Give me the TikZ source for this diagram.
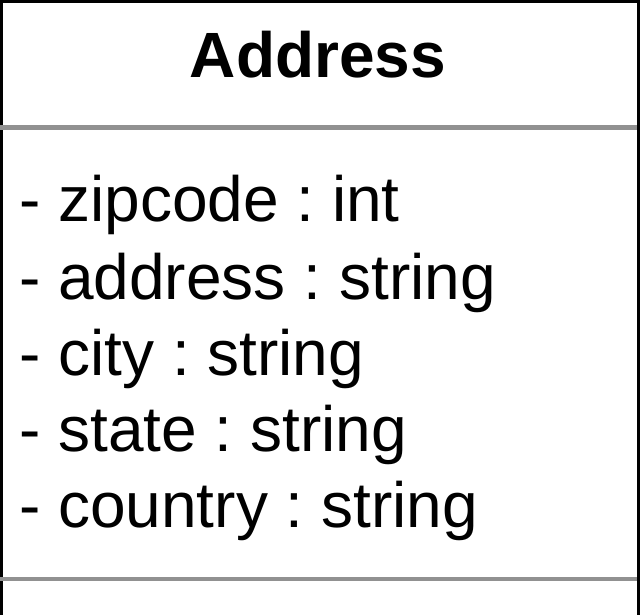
\documentclass[tikz,border=0pt]{standalone}
\usepackage{fontspec}
\setmainfont{Liberation Sans}
\frenchspacing
\definecolor{sepgray}{RGB}{145,145,145}
\begin{document}
\begin{tikzpicture}[x=1pt,y=-1pt,
  classtext/.style={inner sep=0pt,font=\fontsize{64}{77}\selectfont},
  attr/.style={classtext,anchor=base west},
  separator/.style={draw=sepgray,line width=4.5pt},
  frame/.style={draw=black,line width=3.5pt}]
\useasboundingbox (0,0) rectangle (643,615);
\clip (0,0) rectangle (643,615);
\fill[white] (0,0) rectangle (643,615);
% class frame
\draw[frame] (1.5,1.5) rectangle (638.5,618);
% compartment separators
\coordinate (s1l) at (0,127.5);
\coordinate (s1r) at (636.5,127.5);
\coordinate (s2l) at (0,579);
\coordinate (s2r) at (636.5,579);
\draw[separator] (s1l) -- (s1r);
\draw[separator] (s2l) -- (s2r);
% class name
\node[classtext,anchor=base,font=\fontsize{64}{77}\selectfont\bfseries] (title) at (318,78) {Address};
% attributes
\node[attr] (a1) at (19,222) {- zipcode : int};
\node[attr] (a2) at (19,299) {- address : string};
\node[attr] (a3) at (19,375) {- city : string};
\node[attr] (a4) at (19,451) {- state : string};
\node[attr] (a5) at (19,527) {- country : string};
\end{tikzpicture}
\end{document}
